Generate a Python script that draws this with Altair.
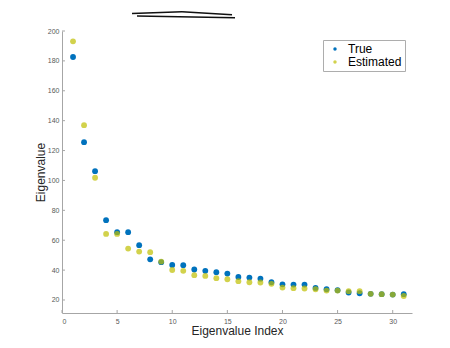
import altair as alt
import pandas as pd

idx = list(range(1, 32))
true_vals = [182.6, 125.6, 106.2, 73.4, 65.4, 65.4, 56.7, 47.2, 45.3, 43.5,
             43.3, 40.4, 39.5, 38.6, 37.7, 35.4, 35.0, 34.3, 31.9, 30.5,
             30.3, 30.3, 28.1, 27.2, 26.5, 25.0, 24.5, 24.1, 23.9, 23.6, 23.9]
est_vals = [193.1, 137.0, 101.8, 64.2, 64.2, 54.4, 52.4, 52.0, 45.7, 40.1,
            39.5, 36.6, 36.1, 34.6, 33.9, 32.6, 31.9, 31.7, 30.8, 28.3,
            27.9, 27.7, 27.2, 26.3, 26.3, 25.9, 25.9, 24.1, 23.9, 23.6, 22.7]
series_names = ["True", "Estimated"]
series_colors = ["#0072BD", "#BFBF00"]
x_ticks = [0, 5, 10, 15, 20, 25, 30]
y_ticks = [20, 40, 60, 80, 100, 120, 140, 160, 180, 200]

W, H = 350, 282

df = pd.DataFrame({
    "idx": idx + idx,
    "val": true_vals + est_vals,
    "series": ["True"] * len(idx) + ["Estimated"] * len(idx),
    "ord": [0] * len(idx) + [1] * len(idx),
})

xs = alt.Scale(domain=[0, 31.75], nice=False, zero=False)
ys = alt.Scale(domain=[11.3, 200], nice=False, zero=False)

x_enc = alt.X("idx:Q", scale=xs, title="Eigenvalue Index",
              axis=alt.Axis(values=x_ticks, ticks=False, labelPadding=4, titlePadding=1))
y_enc = alt.Y("val:Q", scale=ys, title="Eigenvalue",
              axis=alt.Axis(values=y_ticks, ticks=False, labelPadding=3, titlePadding=0))

points = alt.Chart(df).mark_circle(size=34, opacity=1).encode(
    x=x_enc,
    y=y_enc,
    color=alt.Color("series:N", scale=alt.Scale(domain=series_names, range=series_colors),
                    legend=alt.Legend(title=None, orient="none", legendX=261, legendY=9,
                                      strokeColor="#adadad", fillColor="white",
                                      padding=3, symbolSize=12, symbolStrokeWidth=0,
                                      labelFontSize=12, labelColor="#000000",
                                      labelFont="Liberation Sans", rowPadding=1,
                                      symbolOffset=3, labelOffset=7)),
    opacity=alt.Opacity("series:N", scale=alt.Scale(domain=series_names, range=[1.0, 0.7]),
                        legend=None),
    order=alt.Order("ord:Q"),
)

ytick_df = pd.DataFrame({"val": y_ticks})
xtick_df = pd.DataFrame({"idx": x_ticks})

yticks = alt.Chart(ytick_df).mark_rule(color="#a6a6a6", strokeWidth=1).encode(
    y=y_enc, x=alt.value(0), x2=alt.value(3))
xticks = alt.Chart(xtick_df).mark_rule(color="#a6a6a6", strokeWidth=1).encode(
    x=x_enc, y=alt.value(H), y2=alt.value(H - 3))

one = pd.DataFrame({"k": [0]})
scr1 = alt.Chart(one).mark_rule(color="#111111", strokeWidth=1.6).encode(
    x=alt.value(70), x2=alt.value(120), y=alt.value(-17.5), y2=alt.value(-19.3))
scr2 = alt.Chart(one).mark_rule(color="#111111", strokeWidth=1.6).encode(
    x=alt.value(120), x2=alt.value(170), y=alt.value(-19.3), y2=alt.value(-16.3))
scr3 = alt.Chart(one).mark_rule(color="#111111", strokeWidth=1.4).encode(
    x=alt.value(75), x2=alt.value(173), y=alt.value(-15), y2=alt.value(-13.3))

chart = alt.layer(points, yticks, xticks, scr1, scr2, scr3).properties(
    width=W, height=H,
    autosize=alt.AutoSizeParams(type="none"),
    padding={"left": 54, "top": 23, "right": 30, "bottom": 30},
    background="white",
).configure_view(stroke=None).configure_axis(
    grid=False, domainColor="#a6a6a6", domainWidth=1,
    labelColor="#595959", labelFontSize=7, labelFont="Liberation Sans",
    titleFont="Liberation Sans", titleFontSize=12, titleFontWeight="normal",
    titleColor="#262626",
)

chart.save("out.html", embed_options={"renderer": "svg", "actions": False})
